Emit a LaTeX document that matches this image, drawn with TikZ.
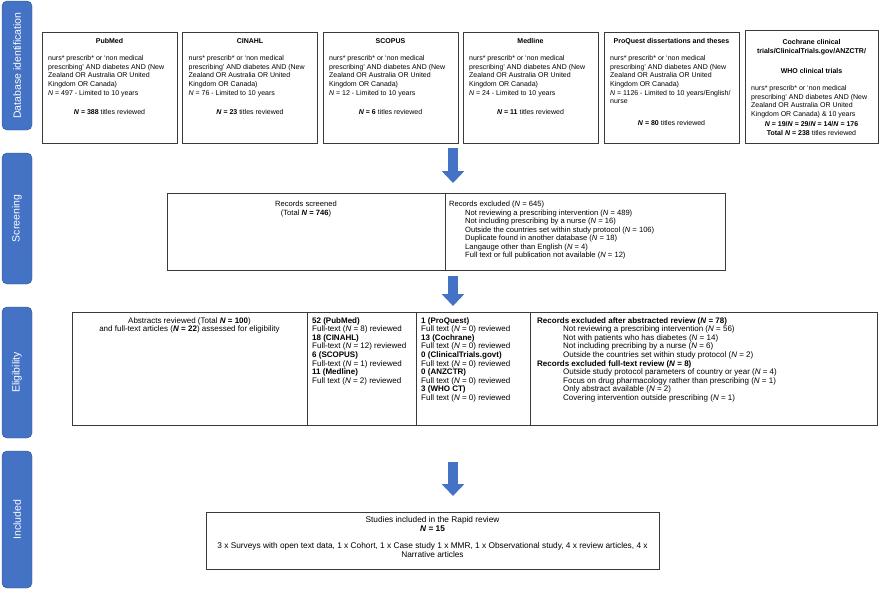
\documentclass[tikz,border=0pt]{standalone}
\usepackage{fontspec}
\setmainfont{Liberation Sans}
\usetikzlibrary{arrows.meta}
\definecolor{stageblue}{HTML}{4472C4}
\definecolor{stageedge}{HTML}{2F528F}
\definecolor{boxedge}{HTML}{3A3A3A}
\newcommand{\myN}{\textit{N}}
\newcommand{\myBN}[1]{\textbf{\textit{N} = #1}}
\begin{document}
\begin{tikzpicture}[x=1pt,y=-1pt,
  stage/.style={draw=stageedge, fill=stageblue, rounded corners=5pt, minimum height=30pt,
    text=white, font=\fontsize{10.5}{12}\selectfont, rotate=90, inner sep=0pt},
  box/.style={draw=boxedge, line width=0.9pt, inner sep=0pt},
  ttxt/.style={font=\fontsize{7}{8.7}\selectfont, inner sep=0pt, align=left},
  stxt/.style={font=\fontsize{7.6}{8.5}\selectfont, inner sep=0pt, align=left},
  etxt/.style={font=\fontsize{8}{8.6}\selectfont, inner sep=0pt, align=left},
  itxt/.style={font=\fontsize{8.3}{8.6}\selectfont, inner sep=0pt, align=center},
  flow/.style={draw=stageblue, line width=10pt, -{Triangle[width=22pt,length=12pt]}}
]
\useasboundingbox (0,0) rectangle (880,592);

% stage labels
\node[stage, minimum width=129pt] (stDB) at (17,65.5) {Database identification};
\node[stage, minimum width=131pt] (stSC) at (17,218.5) {Screening};
\node[stage, minimum width=131pt] (stEL) at (17,372.5) {Eligibility};
\node[stage, minimum width=137pt] (stIN) at (17,519.5) {Included};

% database boxes
\node[box, minimum width=135pt, minimum height=111pt] (pub) at (109.5,87.5) {};
\node[box, minimum width=135pt, minimum height=111pt] (cin) at (250,87.5) {};
\node[box, minimum width=135pt, minimum height=111pt] (sco) at (390.5,87.5) {};
\node[box, minimum width=135pt, minimum height=111pt] (med) at (530.5,87.5) {};
\node[box, minimum width=135pt, minimum height=111pt] (prq) at (671.5,87.5) {};
\node[box, minimum width=133pt, minimum height=113pt] (coc) at (811.5,86.5) {};

% PubMed
\node[ttxt, anchor=north] (pubT) at (109.5,38.7) {\textbf{PubMed}};
\node[ttxt, anchor=north west] (pubB) at (48,55.2) {nurs* prescrib* or ‘non medical\\prescribing’ AND diabetes AND (New\\Zealand OR Australia OR United\\Kingdom OR Canada)\\\myN{} = 497 - Limited to 10 years};
\node[ttxt, anchor=north] (pubN) at (109.5,109.7) {\myBN{388} titles reviewed};
% CINAHL
\node[ttxt, anchor=north] (cinT) at (250,38.7) {\textbf{CINAHL}};
\node[ttxt, anchor=north west] (cinB) at (188.5,55.2) {nurs* prescrib* or ‘non medical\\prescribing’ AND diabetes AND (New\\Zealand OR Australia OR United\\Kingdom OR Canada)\\\myN{} = 76 - Limited to 10 years};
\node[ttxt, anchor=north] (cinN) at (250,109.7) {\myBN{23} titles reviewed};
% SCOPUS
\node[ttxt, anchor=north] (scoT) at (390.5,38.7) {\textbf{SCOPUS}};
\node[ttxt, anchor=north west] (scoB) at (329,55.2) {nurs* prescrib* or ‘non medical\\prescribing’ AND diabetes AND (New\\Zealand OR Australia OR United\\Kingdom OR Canada)\\\myN{} = 12 - Limited to 10 years};
\node[ttxt, anchor=north] (scoN) at (390.5,109.7) {\myBN{6} titles reviewed};
% Medline
\node[ttxt, anchor=north] (medT) at (530.5,38.7) {\textbf{Medline}};
\node[ttxt, anchor=north west] (medB) at (469,55.2) {nurs* prescrib* or ‘non medical\\prescribing’ AND diabetes AND (New\\Zealand OR Australia OR United\\Kingdom OR Canada)\\\myN{} = 24 - Limited to 10 years};
\node[ttxt, anchor=north] (medN) at (530.5,109.7) {\myBN{11} titles reviewed};
% ProQuest
\node[ttxt, anchor=north] (prqT) at (671.5,38.7) {\textbf{ProQuest dissertations and theses}};
\node[ttxt, anchor=north west] (prqB) at (610,55.2) {nurs* prescrib* or ‘non medical\\prescribing’ AND diabetes AND (New\\Zealand OR Australia OR United\\Kingdom OR Canada)\\\myN{} = 1126 - Limited to 10 years/English/\\nurse};
\node[ttxt, anchor=north] (prqN) at (671.5,120.2) {\myBN{80} titles reviewed};
% Cochrane
\node[ttxt, anchor=north, align=center] (cocT) at (811.5,39.2) {\textbf{Cochrane clinical}\\\textbf{trials/ClinicalTrials.gov/ANZCTR/}};
\node[ttxt, anchor=north] (cocW) at (811.5,68.2) {\textbf{WHO clinical trials}};
\node[ttxt, anchor=north west] (cocB) at (751,85.2) {nurs* prescrib* or ‘non medical\\prescribing’ AND diabetes AND (New\\Zealand OR Australia OR United\\Kingdom OR Canada) \& 10 years};
\node[ttxt, anchor=north, align=center] (cocN) at (811.5,121.2) {\textbf{\myN{} = 19/\myN{} = 29/\myN{} = 14/\myN{} = 176}\\\textbf{Total \myN{} = 238} titles reviewed};

% screening
\node[box, minimum width=278pt, minimum height=77pt] (scrL) at (306,231.5) {};
\node[box, minimum width=280pt, minimum height=77pt] (scrR) at (585,231.5) {};
\node[stxt, anchor=north, align=center] (scrLt) at (306,200.9) {Records screened\\(Total \myBN{746})};
\node[stxt, anchor=north west] (scrRt) at (449,200.9) {Records excluded (\myN{} = 645)\\
\hspace*{16pt}Not reviewing a prescribing intervention (\myN{} = 489)\\
\hspace*{16pt}Not including prescribing by a nurse (\myN{} = 16)\\
\hspace*{16pt}Outside the countries set within study protocol (\myN{} = 106)\\
\hspace*{16pt}Duplicate found in another database (\myN{} = 18)\\
\hspace*{16pt}Langauge other than English (\myN{} = 4)\\
\hspace*{16pt}Full text or full publication not available (\myN{} = 12)};

% eligibility
\node[box, minimum width=235pt, minimum height=113pt] (elA) at (189.5,368.5) {};
\node[box, minimum width=109pt, minimum height=113pt] (elB) at (361.5,368.5) {};
\node[box, minimum width=114pt, minimum height=113pt] (elC) at (473,368.5) {};
\node[box, minimum width=347pt, minimum height=113pt] (elD) at (703.5,368.5) {};
\node[etxt, anchor=north, align=center] (elAt) at (189.5,317.1) {Abstracts reviewed (Total \myBN{100})\\and full-text articles (\myBN{22}) assessed for eligibility};
\node[etxt, anchor=north west] (elBt) at (312,317.1) {\textbf{52 (PubMed)}\\Full-text (\myN{} = 8) reviewed\\\textbf{18 (CINAHL)}\\Full-text (\myN{} = 12) reviewed\\\textbf{6 (SCOPUS)}\\Full-text (\myN{} = 1) reviewed\\\textbf{11 (Medline)}\\Full text (\myN{} = 2) reviewed};
\node[etxt, anchor=north west] (elCt) at (421,317.1) {\textbf{1 (ProQuest)}\\Full text (\myN{} = 0) reviewed\\\textbf{13 (Cochrane)}\\Full text (\myN{} = 0) reviewed\\\textbf{0 (ClinicalTrials.govt)}\\Full text (\myN{} = 0) reviewed\\\textbf{0 (ANZCTR)}\\Full text (\myN{} = 0) reviewed\\\textbf{3 (WHO CT)}\\Full text (\myN{} = 0) reviewed};
\node[etxt, anchor=north west] (elDt) at (537,317.1) {\textbf{Records excluded after abstracted review (\myN{} = 78)}\\
\hspace*{26pt}Not reviewing a prescribing intervention (\myN{} = 56)\\
\hspace*{26pt}Not with patients who has diabetes (\myN{} = 14)\\
\hspace*{26pt}Not including precribing by a nurse (\myN{} = 6)\\
\hspace*{26pt}Outside the countries set within study protocol (\myN{} = 2)\\
\textbf{Records excluded full-text review (\myN{} = 8)}\\
\hspace*{26pt}Outside study protocol parameters of country or year (\myN{} = 4)\\
\hspace*{26pt}Focus on drug pharmacology rather than prescribing (\myN{} = 1)\\
\hspace*{26pt}Only abstract available (\myN{} = 2)\\
\hspace*{26pt}Covering intervention outside prescribing (\myN{} = 1)};

% included
\node[box, minimum width=453pt, minimum height=57pt] (inc) at (432.5,540.5) {};
\node[itxt, anchor=north] (inct) at (432.5,516.7) {Studies included in the Rapid review\\\myBN{15}\\[8.6pt]3 x Surveys with open text data, 1 x Cohort, 1 x Case study 1 x MMR, 1 x Observational study, 4 x review articles, 4 x\\Narrative articles};

% arrows
\coordinate (a1s) at (453,148); \coordinate (a1e) at (453,183);
\coordinate (a2s) at (453,276); \coordinate (a2e) at (453,306);
\coordinate (a3s) at (453,462); \coordinate (a3e) at (453,496);
\draw[flow] (a1s) -- (a1e);
\draw[flow] (a2s) -- (a2e);
\draw[flow] (a3s) -- (a3e);
\end{tikzpicture}
\end{document}
